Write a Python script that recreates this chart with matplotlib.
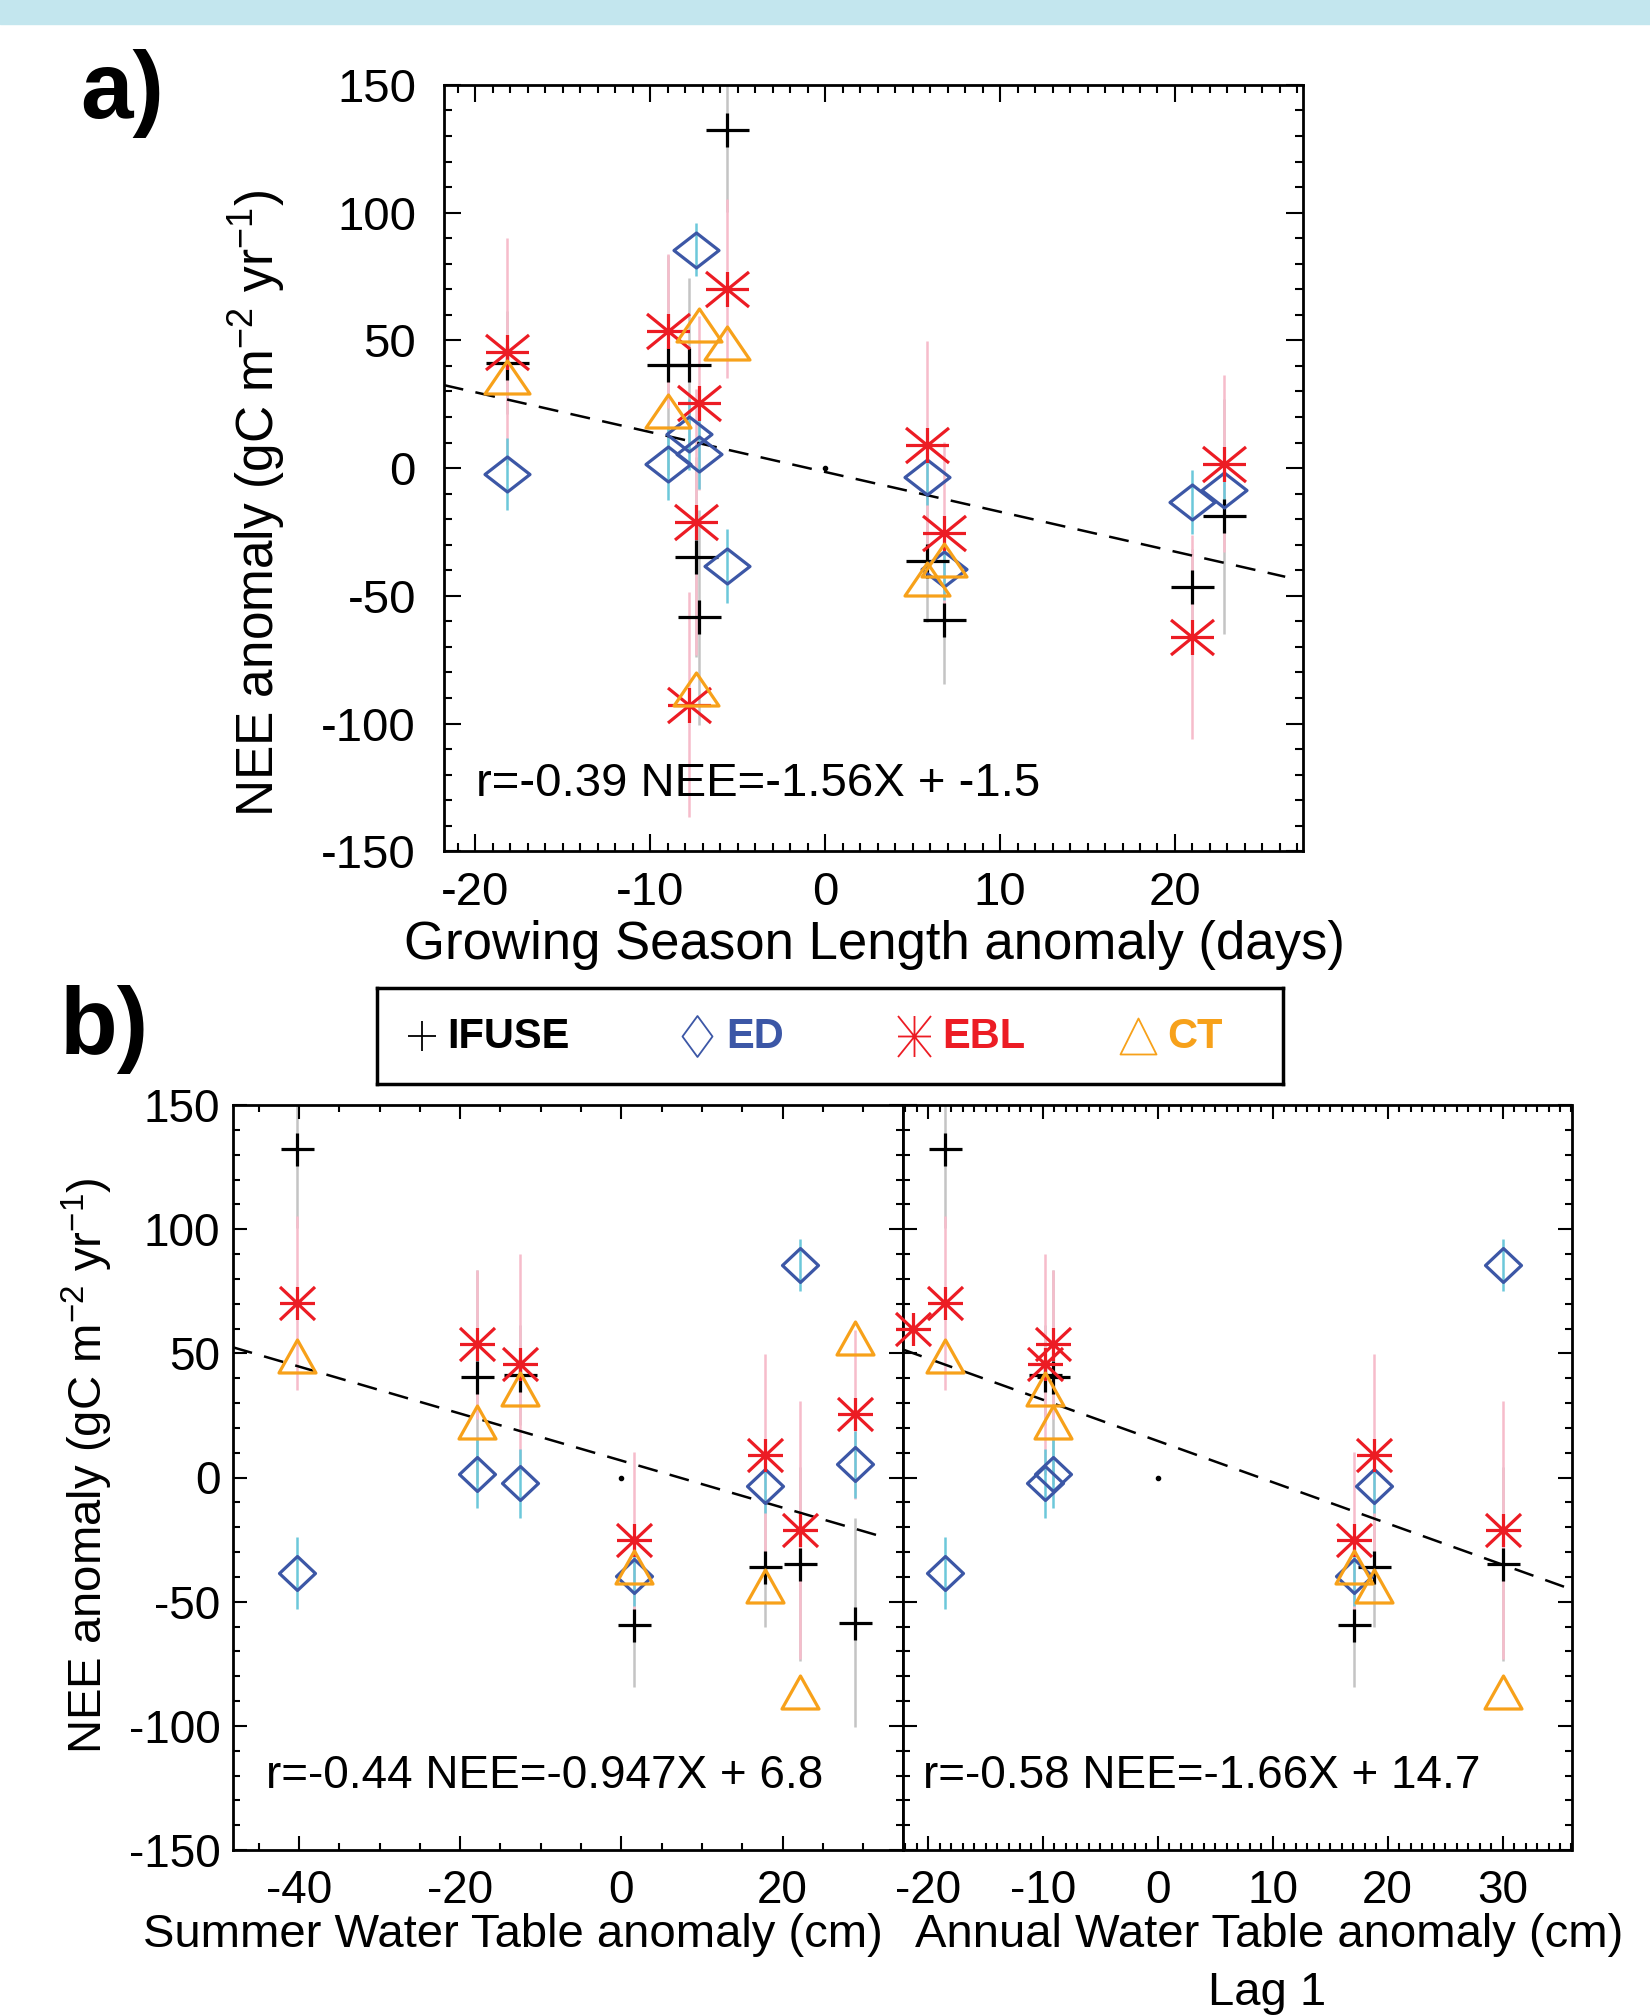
import numpy as np
import matplotlib
matplotlib.use('Agg')
import matplotlib.pyplot as plt
from matplotlib.path import Path
from matplotlib.patches import Rectangle
from matplotlib.ticker import MultipleLocator

W, H = 1650, 2016
plt.rcParams['font.family'] = ['Liberation Sans', 'DejaVu Sans']
plt.rcParams['mathtext.fontset'] = 'custom'
plt.rcParams['mathtext.rm'] = 'Liberation Sans'
plt.rcParams['mathtext.default'] = 'regular'
plt.rcParams['axes.unicode_minus'] = False

nan = np.nan

# one entry per year; nan where a year is missing from that panel
gsl_anom = [-5.6, -18.2, -9.0, 6.8, 5.8, -7.4, -7.2, -7.8, 21.0, 22.8, nan]
summer_wt = [-40.2, -12.6, -17.9, 1.5, 17.8, 22.2, 29.0, nan, nan, nan, nan]
annual_wt_lag1 = [-18.5, -9.8, -9.1, 17.1, 18.8, 30.0, nan, nan, nan, nan, -21.3]

nee_ifuse = [132.3, 41.3, 40.4, -59.5, -36.2, -34.8, -58.4, 40.4, -46.5, -18.8, nan]
nee_ed = [-38.5, -2.4, 1.6, -39.6, -3.4, 85.5, 5.4, 13.2, -13.2, -8.6, nan]
nee_ebl = [70.3, 45.6, 53.7, -25.3, 9.2, -21.2, 25.4, -92.6, -66.2, 1.8, 60.0]
nee_ct = [49.0, 35.8, 22.5, -36.0, -43.5, -86.5, 56.0, nan, nan, nan, nan]

err_ifuse = [32, 20, 43, 25, 24, 39, 42, 34, 15, 46, nan]
err_ed = [14.5, 14, 14, 12, 11, 10.5, 13.5, 14, 12.5, 10, nan]
err_ebl = [35, 44.5, 30, 35.5, 40.5, 52, 34, 44, 40, 34.5, 0]

# regression results printed in each panel: r, slope, intercept
fit_gsl = (-0.39, -1.56, -1.5)
fit_summer = (-0.44, -0.947, 6.8)
fit_annual = (-0.58, -1.66, 14.7)

models = ['IFUSE', 'ED', 'EBL', 'CT']
colors = {'IFUSE': 'black', 'ED': '#3c57a6', 'EBL': '#ec1c24', 'CT': '#f7a11a'}
err_colors = {'IFUSE': '#c4c4c4', 'ED': '#6cc8da', 'EBL': '#f6bccb'}
shapes = {'IFUSE': 'plus', 'ED': 'diamond', 'EBL': 'asterisk', 'CT': 'triangle'}
nee = {'IFUSE': nee_ifuse, 'ED': nee_ed, 'EBL': nee_ebl, 'CT': nee_ct}
errs = {'IFUSE': err_ifuse, 'ED': err_ed, 'EBL': err_ebl}


def marker(kind, w, h):
    # IDL-style open symbols, w and h in pixels
    a, b = w / 2.0, h / 2.0
    M, L = Path.MOVETO, Path.LINETO
    if kind == 'plus':
        verts = [(-a, 0), (a, 0), (0, -b), (0, b)]
        codes = [M, L, M, L]
    elif kind == 'diamond':
        verts = [(-a, 0), (0, b), (a, 0), (0, -b), (-a, 0)]
        codes = [M, L, L, L, Path.CLOSEPOLY]
    elif kind == 'asterisk':
        verts = [(-a, 0), (a, 0), (0, -b), (0, b), (-a, -b), (a, b), (-a, b), (a, -b)]
        codes = [M, L] * 4
    else:
        verts = [(-a, -b), (0, b), (a, -b), (-a, -b)]
        codes = [M, L, L, Path.CLOSEPOLY]
    return Path(verts, codes), 2 * max(a, b) * 72.0 / 100


def axes_px(left, top, right, bottom):
    return [left / W, 1 - bottom / H, (right - left) / W, (bottom - top) / H]


def draw_panel(ax, x, fit, xlim, line_end, msizes, xmaj, xmin_, fs_tick, tlen):
    x = np.array(x, dtype=float)
    # error bars first
    for m in ['IFUSE', 'EBL', 'ED']:
        y = np.array(nee[m], dtype=float)
        e = np.array(errs[m], dtype=float)
        ok = ~np.isnan(x) & ~np.isnan(y)
        ax.vlines(x[ok], y[ok] - e[ok], y[ok] + e[ok], color=err_colors[m], lw=1.8, zorder=1)
    r, slope, icpt = fit
    xl = np.array([xlim[0], line_end])
    ax.plot(xl, slope * xl + icpt, color='black', lw=1.8, ls=(0, (8, 5)), zorder=2)
    ax.plot([0], [0], 'o', color='black', ms=3, zorder=2)
    for m in models:
        y = np.array(nee[m], dtype=float)
        ok = ~np.isnan(x) & ~np.isnan(y)
        path, ms = marker(shapes[m], *msizes[m])
        ax.plot(x[ok], y[ok], ls='none', marker=path, ms=ms, mfc='none', mec=colors[m],
                mew=2.3, zorder=3, clip_on=False)
    ax.text(0, 0, 'r=%.2f NEE=%gX + %g' % (r, slope, icpt), transform=ax.transAxes)
    ax.set_xlim(*xlim)
    ax.set_ylim(-150, 150)
    ax.xaxis.set_major_locator(MultipleLocator(xmaj))
    ax.xaxis.set_minor_locator(MultipleLocator(xmin_))
    ax.yaxis.set_major_locator(MultipleLocator(50))
    ax.yaxis.set_minor_locator(MultipleLocator(10))
    ax.tick_params(which='both', direction='in', top=True, right=True, width=1.5,
                   labelsize=fs_tick)
    ax.tick_params(which='major', length=tlen)
    ax.tick_params(which='minor', length=tlen / 2)
    for s in ax.spines.values():
        s.set_linewidth(2)
    return ax


fig = plt.figure(figsize=(W / 100, H / 100), dpi=100)
fig.patches.append(Rectangle((0, 1 - 24 / H), 1, 24 / H, transform=fig.transFigure,
                             color='#c3e6ee', zorder=0))

size_a = {'IFUSE': (43, 34), 'ED': (45, 35), 'EBL': (43, 35), 'CT': (45, 33)}
size_b = {'IFUSE': (33, 33), 'ED': (36, 34), 'EBL': (35, 33), 'CT': (37, 33)}

ax_a = fig.add_axes(axes_px(443.7, 84.9, 1302.7, 851.3))
draw_panel(ax_a, gsl_anom, fit_gsl, (-21.8, 27.3), 26.3, size_a, 10, 1, 34, 12)
ax_a.texts[0].set_position((0.0376, 0.0878))
ax_a.texts[0].set_fontsize(34)
ax_a.texts[0].set_va('center')
ax_a.tick_params(axis='y', pad=20)
ax_a.tick_params(axis='x', pad=14)

ax_b1 = fig.add_axes(axes_px(232.8, 1105, 902.8, 1850))
draw_panel(ax_b1, summer_wt, fit_summer, (-48.2, 34.9), 32.7, size_b, 20, 5, 33, 10)
ax_b2 = fig.add_axes(axes_px(902.8, 1105, 1571.5, 1850))
draw_panel(ax_b2, annual_wt_lag1, fit_annual, (-22.2, 36.0), 36.0, size_b, 10, 1, 33, 10)
ax_b2.tick_params(labelleft=False)
ax_b1.tick_params(axis='y', pad=9)
for ax, xt in [(ax_b1, 0.0496), (ax_b2, 0.030)]:
    ax.texts[0].set_position((xt, 0.0993))
    ax.texts[0].set_fontsize(33)
    ax.texts[0].set_va('center')
    ax.tick_params(axis='x', pad=14)

ylab = 'NEE anomaly (gC m$^{-2}$ yr$^{-1}$)'
fig.text(257 / W, 1 - 504 / H, ylab, rotation=90, ha='center', va='center', fontsize=37)
fig.text(874 / W, 1 - 945 / H, 'Growing Season Length anomaly (days)', ha='center', va='center', fontsize=38)
fig.text(87 / W, 1 - 1466 / H, ylab, rotation=90, ha='center', va='center', fontsize=34)
fig.text(513 / W, 1 - 1935 / H, 'Summer Water Table anomaly (cm)', ha='center', va='center', fontsize=34)
fig.text(1269 / W, 1 - 1935 / H, 'Annual Water Table anomaly (cm)', ha='center', va='center', fontsize=34)
fig.text(1267 / W, 1 - 1993 / H, 'Lag 1', ha='center', va='center', fontsize=34)

fig.text(80 / W, 1 - 93 / H, 'a)', ha='left', va='center', fontsize=68, fontweight='bold')
fig.text(60 / W, 1 - 1029 / H, 'b)', ha='left', va='center', fontsize=68, fontweight='bold')

# legend box between the panels
leg = fig.add_axes(axes_px(377, 988, 1283, 1084))
leg.set_xlim(377, 1283)
leg.set_ylim(1084, 988)
leg.set_xticks([])
leg.set_yticks([])
for s in leg.spines.values():
    s.set_linewidth(2.5)
leg_marker_x = [422, 697, 914, 1138]
leg_text_x = [447, 726, 942, 1167]
leg_sizes = {'IFUSE': (28, 30), 'ED': (30, 41), 'EBL': (33, 41), 'CT': (36, 36)}
for m, mx, tx in zip(models, leg_marker_x, leg_text_x):
    path, ms = marker(shapes[m], *leg_sizes[m])
    leg.plot([mx], [1036], marker=path, ms=ms, mfc='none', mec=colors[m], mew=1.3, ls='none')
    leg.text(tx, 1037, m, color=colors[m], fontsize=30, fontweight='bold', ha='left', va='center')

fig.savefig('out.png', dpi=100)
